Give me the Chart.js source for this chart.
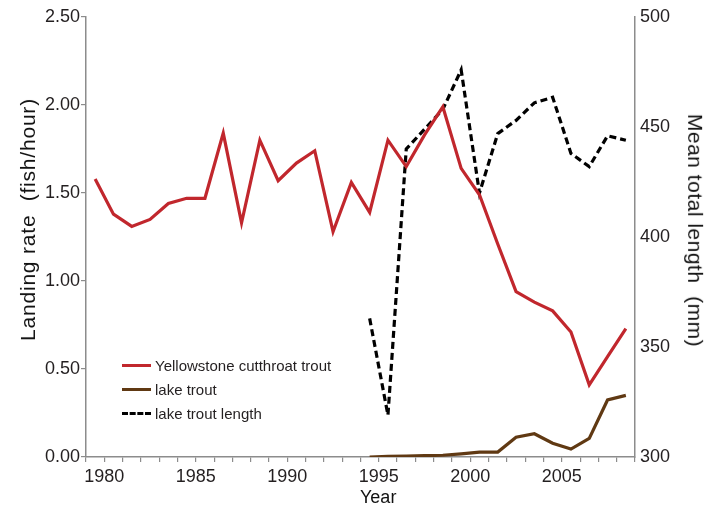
<!DOCTYPE html>
<html>
<head>
<meta charset="utf-8">
<script src="https://cdn.jsdelivr.net/npm/chart.js@4"></script>
<style>
  html, body { margin: 0; padding: 0; background: #fff; }
  #wrap { position: relative; width: 715px; height: 506px; font-family: "Liberation Sans", Arial, sans-serif; color: #231f20; }
  #legend { position: absolute; left: 122px; top: 353px; font-size: 15px; }
  #legend div { display: flex; align-items: center; height: 24px; }
  #legend span.s { display: inline-block; width: 29px; margin-right: 4px; }
  .ttl { position: absolute; white-space: pre; line-height: 1; transform-origin: center center; color: #111; }
</style>
</head>
<body>
<div id="wrap">
  <canvas id="troutChart" width="715" height="506"></canvas>
  <div id="legend"></div>
  <div class="ttl" id="yTitle" style="font-size:21px;letter-spacing:0.8px">Landing rate  (fish/hour)</div>
  <div class="ttl" id="y1Title" style="font-size:21px;letter-spacing:0.5px">Mean total length  (mm)</div>
  <div class="ttl" id="xTitle" style="font-size:18px">Year</div>
</div>
<script>
// Survey years (each value sits in the middle of its year on the axis)
const years = [1979, 1980, 1981, 1982, 1983, 1984, 1985, 1986, 1987, 1988,
               1989, 1990, 1991, 1992, 1993, 1994, 1995, 1996, 1997, 1998,
               1999, 2000, 2001, 2002, 2003, 2004, 2005, 2006, 2007, 2008];

// Landing rate (fish/hour), Yellowstone cutthroat trout
const cutthroatRate = [1.58, 1.38, 1.31, 1.35, 1.44, 1.47, 1.47, 1.84, 1.33, 1.80,
                       1.57, 1.67, 1.74, 1.28, 1.56, 1.39, 1.80, 1.65, 1.83, 1.99,
                       1.64, 1.49, 1.21, 0.94, 0.88, 0.83, 0.71, 0.41, 0.57, 0.73];

// Landing rate (fish/hour), lake trout (starts 1994)
const lakeRate = [null, null, null, null, null, null, null, null, null, null,
                  null, null, null, null, null, 0.00, 0.003, 0.005, 0.008, 0.01,
                  0.018, 0.028, 0.028, 0.112, 0.132, 0.078, 0.045, 0.106, 0.324, 0.35];

// Mean total length (mm), lake trout
const lakeLength = [null, null, null, null, null, null, null, null, null, null,
                    null, null, null, null, null, 363, 319, 440, 449, 458,
                    476, 420, 447, 453, 461, 463.5, 438, 432, 446, 444];

const leftTicks = [0, 0.5, 1, 1.5, 2, 2.5];
const rightTicks = [300, 350, 400, 450, 500];

const toPoints = (vals) => years.map((y, i) => ({ x: y + 0.5, y: vals[i] }));

const axisGrey = '#8c8c8c';
const textCol = '#231f20';
const tickFont = { family: 'Liberation Sans', size: 18 };

const datasets = [
    { label: 'Yellowstone cutthroat trout', data: toPoints(cutthroatRate), borderColor: '#c1272d', yAxisID: 'y', borderWidth: 3.2 },
    { label: 'lake trout', data: toPoints(lakeRate), borderColor: '#603913', yAxisID: 'y', borderWidth: 3.2 },
    { label: 'lake trout length', data: toPoints(lakeLength), borderColor: '#000000', yAxisID: 'y1', borderWidth: 3.2, borderDash: [7, 4] }
];
datasets.forEach(d => { d.pointRadius = 0; d.tension = 0; d.fill = false; d.spanGaps = false; });

const ctx = document.getElementById('troutChart').getContext('2d');
const chart = new Chart(ctx, {
    type: 'line',
    data: { datasets: datasets },
    options: {
        responsive: false,
        animation: false,
        layout: { padding: { top: 17, right: 0, left: 0, bottom: 0 } },
        plugins: { legend: { display: false }, tooltip: { enabled: false } },
        scales: {
            x: {
                type: 'linear', min: 1979, max: 2009,
                afterFit: (s) => { s.height = 49; },
                afterBuildTicks: (s) => { s.ticks = []; for (let v = 1979; v <= 2009; v++) s.ticks.push({ value: v }); },
                ticks: { autoSkip: false, maxRotation: 0, color: textCol, font: tickFont, padding: 4,
                         callback: (v) => (v % 5 === 0 && v < 2009 && v > 1979) ? String(v) : '' },
                grid: { drawOnChartArea: false, drawTicks: true, tickLength: 5, color: axisGrey, lineWidth: 1.2 },
                border: { color: axisGrey, width: 1.5 }
            },
            y: {
                position: 'left', min: 0, max: 2.5,
                afterFit: (s) => { s.width = 86; },
                afterBuildTicks: (s) => { s.ticks = leftTicks.map(v => ({ value: v })); },
                ticks: { color: textCol, font: tickFont, padding: 1, callback: (v) => v.toFixed(2) },
                grid: { drawOnChartArea: false, drawTicks: true, tickLength: 5, color: axisGrey, lineWidth: 1.2 },
                border: { color: axisGrey, width: 1.5 }
            },
            y1: {
                position: 'right', min: 300, max: 500,
                afterFit: (s) => { s.width = 80; },
                afterBuildTicks: (s) => { s.ticks = rightTicks.map(v => ({ value: v })); },
                ticks: { color: textCol, font: tickFont, padding: 5 },
                grid: { drawOnChartArea: false, drawTicks: false, color: axisGrey },
                border: { color: axisGrey, width: 1.5 }
            }
        }
    }
});

// Axis titles placed as HTML text around the chart area
const place = (id, cx, cy, rot) => {
    const el = document.getElementById(id);
    el.style.left = (cx - el.offsetWidth / 2) + 'px';
    el.style.top = (cy - el.offsetHeight / 2) + 'px';
    el.style.transform = 'rotate(' + rot + 'deg)';
};
place('yTitle', 27, 219, -90);
place('y1Title', 695, 230, 90);
place('xTitle', 378, 497, 0);

// HTML legend built from the datasets
const legend = document.getElementById('legend');
chart.data.datasets.forEach(d => {
    const row = document.createElement('div');
    const sw = document.createElement('span');
    sw.className = 's';
    sw.style.borderTop = d.borderDash ? '3.5px dashed ' + d.borderColor : '3.5px solid ' + d.borderColor;
    row.appendChild(sw);
    row.appendChild(document.createTextNode(d.label));
    legend.appendChild(row);
});
</script>
</body>
</html>
